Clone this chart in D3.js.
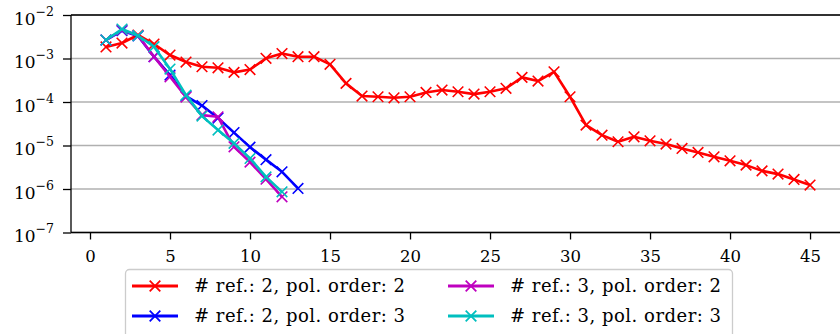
<!DOCTYPE html>
<html>
<head>
<meta charset="utf-8">
<script src="https://cdn.jsdelivr.net/npm/d3@7"></script>
<style>
  body { margin: 0; background: #fff; }
</style>
</head>
<body>
<div id="chart"></div>
<script>
// values
const red = [1.84e-3, 2.27e-3, 3.47e-3, 2.15e-3, 1.20e-3, 8.3e-4, 6.46e-4, 6.12e-4, 4.8e-4, 5.57e-4,
  1.01e-3, 1.30e-3, 1.10e-3, 1.10e-3, 7.35e-4, 2.68e-4, 1.37e-4, 1.32e-4, 1.25e-4, 1.32e-4,
  1.66e-4, 1.88e-4, 1.72e-4, 1.52e-4, 1.72e-4, 2.06e-4, 3.68e-4, 3.03e-4, 4.95e-4, 1.32e-4,
  2.94e-5, 1.73e-5, 1.22e-5, 1.58e-5, 1.28e-5, 1.08e-5, 8.57e-6, 6.93e-6, 5.49e-6, 4.45e-6,
  3.54e-6, 2.61e-6, 2.20e-6, 1.66e-6, 1.23e-6];
const blue = [2.66e-3, 4.35e-3, 3.29e-3, 1.10e-3, 4.16e-4, 1.37e-4, 8.28e-5, 4.27e-5, 1.98e-5,
  9.18e-6, 4.73e-6, 2.48e-6, 1.03e-6];
const magenta = [2.66e-3, 4.52e-3, 3.38e-3, 1.10e-3, 3.80e-4, 1.30e-4, 5.0e-5, 4.57e-5, 9.33e-6,
  4.15e-6, 1.68e-6, 6.6e-7];
const cyan = [2.66e-3, 4.76e-3, 3.34e-3, 1.87e-3, 5.72e-4, 1.44e-4, 4.74e-5, 2.26e-5, 1.12e-5,
  5.04e-6, 1.90e-6, 8.6e-7];

const seriesNames = ["# ref.: 2, pol. order: 2", "# ref.: 2, pol. order: 3",
  "# ref.: 3, pol. order: 2", "# ref.: 3, pol. order: 3"];
const seriesColors = ["#ff0000", "#0000ff", "#bf00bf", "#00bfbf"];
const seriesData = [red, blue, magenta, cyan];

const xTicks = [0, 5, 10, 15, 20, 25, 30, 35, 40, 45];
const yExponents = [-2, -3, -4, -5, -6, -7];

const FONT = "'DejaVu Serif', 'Liberation Serif', serif";
const W = 840, H = 334;
const margin = { top: 15, left: 71 };
const plotBottom = 232.5, plotRight = 847;

const svg = d3.select("#chart").append("svg")
  .attr("width", W).attr("height", H);

const x = d3.scaleLinear().domain([-1.1875, 47.31]).range([margin.left, plotRight]);
const y = d3.scaleLog().domain([1e-7, 1e-2]).range([plotBottom, margin.top]);

svg.append("clipPath").attr("id", "clip")
  .append("rect")
  .attr("x", margin.left).attr("y", margin.top)
  .attr("width", plotRight - margin.left).attr("height", plotBottom - margin.top);

// grid
svg.append("g").selectAll("line")
  .data(yExponents.map(e => Math.pow(10, e)))
  .enter().append("line")
  .attr("x1", margin.left).attr("x2", plotRight)
  .attr("y1", d => y(d)).attr("y2", d => y(d))
  .attr("stroke", "#b0b0b0").attr("stroke-width", 1.4);

// lines
const line = d3.line()
  .x((d, i) => x(i + 1))
  .y(d => y(d));

const ms = 5.3;
const cross = (cx, cy) => `M${cx - ms},${cy - ms}L${cx + ms},${cy + ms}M${cx - ms},${cy + ms}L${cx + ms},${cy - ms}`;

const plot = svg.append("g").attr("clip-path", "url(#clip)");
seriesData.forEach((data, k) => {
  plot.append("path")
    .datum(data)
    .attr("fill", "none")
    .attr("stroke", seriesColors[k])
    .attr("stroke-width", 2.6)
    .attr("stroke-linejoin", "round")
    .attr("d", line);
  plot.append("g").selectAll("path")
    .data(data)
    .enter().append("path")
    .attr("d", (d, i) => cross(x(i + 1), y(d)))
    .attr("stroke", seriesColors[k])
    .attr("stroke-width", 1.6)
    .attr("fill", "none");
});

// spines
const spine = svg.append("g").attr("stroke", "#000").attr("stroke-width", 1.3);
spine.append("line").attr("x1", margin.left).attr("x2", margin.left)
  .attr("y1", margin.top).attr("y2", plotBottom);
spine.append("line").attr("x1", margin.left).attr("x2", plotRight)
  .attr("y1", plotBottom).attr("y2", plotBottom);
spine.append("line").attr("x1", margin.left).attr("x2", plotRight)
  .attr("y1", margin.top).attr("y2", margin.top);

// x axis
const xAxis = svg.append("g").attr("transform", `translate(0,${plotBottom})`)
  .call(d3.axisBottom(x).tickValues(xTicks).tickSize(7).tickPadding(0).tickFormat(""));
xAxis.select(".domain").remove();
xAxis.selectAll(".tick line").attr("stroke", "#000").attr("stroke-width", 1.3);
xAxis.selectAll(".tick").append("text")
  .attr("y", 29.5)
  .attr("text-anchor", "middle")
  .style("font-family", FONT)
  .style("font-size", "16.5px")
  .attr("fill", "#000")
  .text(d => d);

// y axis
const yAxis = svg.append("g").attr("transform", `translate(${margin.left},0)`)
  .call(d3.axisLeft(y).tickValues(yExponents.map(e => Math.pow(10, e))).tickSize(8).tickFormat(""));
yAxis.select(".domain").remove();
yAxis.selectAll(".tick line").attr("stroke", "#000").attr("stroke-width", 1.3);
yAxis.selectAll(".tick").each(function (d) {
  const e = Math.round(Math.log10(d));
  const t = d3.select(this).append("text")
    .attr("x", -17).attr("y", 9)
    .attr("text-anchor", "end")
    .attr("fill", "#000")
    .style("font-family", FONT)
    .style("font-size", "17px");
  t.append("tspan").text("10");
  t.append("tspan").attr("dy", -9).style("font-size", "12.5px").text("\u2212" + Math.abs(e));
});

// legend
const lg = svg.append("g");
lg.append("rect")
  .attr("x", 125.5).attr("y", 269.5).attr("width", 607).attr("height", 80)
  .attr("rx", 4)
  .attr("fill", "#fff").attr("fill-opacity", 0.8)
  .attr("stroke", "#ccc").attr("stroke-width", 1.3);
const cols = [132, 448];
const rows = [286, 316];
seriesNames.forEach((name, k) => {
  const cx = cols[Math.floor(k / 2)], cy = rows[k % 2];
  lg.append("line").attr("x1", cx).attr("x2", cx + 46)
    .attr("y1", cy).attr("y2", cy)
    .attr("stroke", seriesColors[k]).attr("stroke-width", 2.8);
  lg.append("path")
    .attr("d", cross(cx + 23, cy))
    .attr("stroke", seriesColors[k]).attr("stroke-width", 1.8);
  lg.append("text")
    .attr("x", cx + 62).attr("y", cy + 6)
    .attr("fill", "#000")
    .style("font-family", FONT)
    .style("font-size", "18px")
    .style("letter-spacing", "0.5px")
    .text(name);
});
</script>
</body>
</html>
